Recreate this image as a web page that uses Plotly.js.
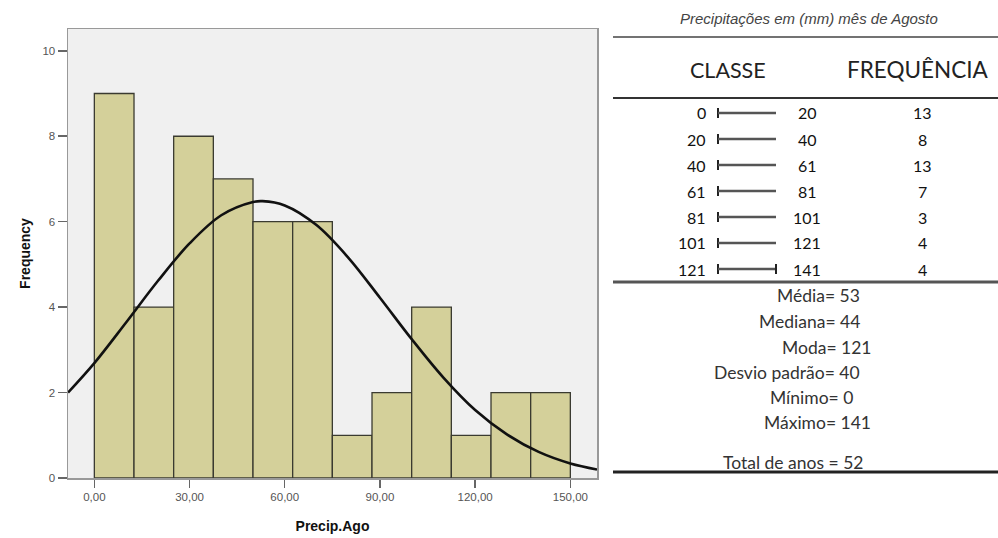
<!DOCTYPE html>
<html>
<head>
<meta charset="utf-8">
<script src="https://cdn.plot.ly/plotly-3.0.1.min.js"></script>
<style>html,body{margin:0;padding:0;background:#fff}#chart{width:998px;height:538px}</style>
</head>
<body>
<div id="chart"></div>
<script>
// ---- histogram data (Precip.Ago) ----
const binStart = [0, 12.5, 25, 37.5, 50, 62.5, 75, 87.5, 100, 112.5, 125, 137.5];
const binCount = [9, 4, 8, 7, 6, 6, 1, 2, 4, 1, 2, 2];
const binWidth = 12.5;

// ---- fitted normal curve ----
const curveX = [-8.3, 0, 10, 20, 30, 40, 50, 53, 60, 70, 80, 90, 100, 110, 120, 130, 140, 150, 158.4];
const curveY = [2.0, 2.69, 3.64, 4.61, 5.49, 6.15, 6.46, 6.48, 6.38, 5.92, 5.16, 4.22, 3.25, 2.35, 1.59, 1.02, 0.61, 0.34, 0.20];

// ---- axis ticks ----
const xTickVals = [0, 30, 60, 90, 120, 150];
const xTickText = ["0,00", "30,00", "60,00", "90,00", "120,00", "150,00"];
const yTickVals = [0, 2, 4, 6, 8, 10];

// ---- frequency table ----
const tableTitle = "Precipitações em (mm) mês de Agosto";
const classLow = [0, 20, 40, 61, 81, 101, 121];
const classHigh = [20, 40, 61, 81, 101, 121, 141];
const classFreq = [13, 8, 13, 7, 3, 4, 4];
const statText = ["Média= 53", "Mediana= 44", "Moda= 121", "Desvio padrão= 40", "Mínimo= 0", "Máximo= 141", "Total de anos = 52"];

// ---- layout helpers (pixel -> paper) ----
const W = 998, H = 538;
const PX = p => p / W;
const PY = p => 1 - p / H;

const traces = [
  {
    type: 'bar', x: binStart, y: binCount, width: binWidth, offset: 0,
    marker: {color: '#d4d09a', line: {color: '#3a3a30', width: 1.3}},
    hoverinfo: 'x+y', showlegend: false
  },
  {
    type: 'scatter', mode: 'lines', x: curveX, y: curveY,
    line: {color: '#111', width: 2.6, shape: 'spline', smoothing: 1},
    showlegend: false, hoverinfo: 'skip'
  }
];

const annotations = [];
const shapes = [];
const tf = 'Lato, "Open Sans", sans-serif';

annotations.push({xref: 'paper', yref: 'paper', x: PX(809), y: PY(18), text: '<i>' + tableTitle + '</i>',
  showarrow: false, xanchor: 'center', yanchor: 'middle', font: {family: 'Liberation Sans, Arial', size: 15, color: '#444'}});
annotations.push({xref: 'paper', yref: 'paper', x: PX(728), y: PY(70), text: 'CLASSE',
  showarrow: false, xanchor: 'center', yanchor: 'middle', font: {family: tf, size: 21.5, color: '#222'}});
annotations.push({xref: 'paper', yref: 'paper', x: PX(918), y: PY(70), text: 'FREQUÊNCIA',
  showarrow: false, xanchor: 'center', yanchor: 'middle', font: {family: tf, size: 22.5, color: '#222'}});

const rowY0 = 113, rowStep = 26;
const rowFont = {family: tf, size: 16, color: '#111'};
classLow.forEach((lo, i) => {
  const y = rowY0 + i * rowStep;
  annotations.push({xref: 'paper', yref: 'paper', x: PX(708), y: PY(y), text: String(lo), showarrow: false, xanchor: 'right', yanchor: 'middle', font: rowFont});
  annotations.push({xref: 'paper', yref: 'paper', x: PX(807), y: PY(y), text: String(classHigh[i]), showarrow: false, xanchor: 'center', yanchor: 'middle', font: rowFont});
  annotations.push({xref: 'paper', yref: 'paper', x: PX(922), y: PY(y), text: String(classFreq[i]), showarrow: false, xanchor: 'center', yanchor: 'middle', font: rowFont});
  shapes.push({type: 'line', xref: 'paper', yref: 'paper', x0: PX(718), x1: PX(718), y0: PY(y - 5), y1: PY(y + 5), line: {color: '#222', width: 2}});
  shapes.push({type: 'line', xref: 'paper', yref: 'paper', x0: PX(718), x1: PX(776), y0: PY(y), y1: PY(y), line: {color: '#555', width: 2.4}});
  if (i === classLow.length - 1) {
    shapes.push({type: 'line', xref: 'paper', yref: 'paper', x0: PX(776), x1: PX(776), y0: PY(y - 5), y1: PY(y + 5), line: {color: '#222', width: 2}});
  }
});

const statRight = [862, 862, 873, 862, 855, 873, 865];
const statY = [295, 321, 347, 372, 397, 422, 462];
statText.forEach((t, i) => {
  annotations.push({xref: 'paper', yref: 'paper', x: PX(statRight[i]), y: PY(statY[i]), text: t, showarrow: false,
    xanchor: 'right', yanchor: 'middle', font: {family: tf, size: 17.5, color: '#333'}});
});

[[37, 1.5, '#444'], [98, 2, '#333'], [282, 3, '#555'], [472, 3, '#222']].forEach(([y, w, c]) => {
  shapes.push({type: 'line', xref: 'paper', yref: 'paper', x0: PX(613), x1: PX(998), y0: PY(y), y1: PY(y), line: {color: c, width: w}});
});

const layout = {
  width: W, height: H,
  margin: {l: 0, r: 0, t: 0, b: 0},
  paper_bgcolor: '#fff', plot_bgcolor: '#f0f0f0',
  font: {family: 'Liberation Sans, Arial, sans-serif', color: '#555'},
  bargap: 0,
  xaxis: {
    domain: [PX(68), PX(597)], range: [-8.3, 158.4],
    tickvals: xTickVals, ticktext: xTickText, tickfont: {size: 11.5, color: '#555'},
    ticks: 'outside', ticklen: 8, tickwidth: 1.5, tickcolor: '#666',
    showline: true, mirror: true, linecolor: '#999', linewidth: 1.5,
    showgrid: false, zeroline: false, automargin: false,
    title: {text: '<b>Precip.Ago</b>', font: {size: 14, color: '#111'}}
  },
  yaxis: {
    domain: [PY(478), PY(29)], range: [0, 10.51],
    tickvals: yTickVals, tickfont: {size: 11.5, color: '#555'},
    ticks: 'outside', ticklen: 9, tickwidth: 1.5, tickcolor: '#666',
    showline: true, mirror: true, linecolor: '#999', linewidth: 1.5,
    showgrid: false, zeroline: false, automargin: false,
    title: {text: '<b>Frequency</b>', font: {size: 14, color: '#111'}}
  },
  annotations: annotations,
  shapes: shapes
};

Plotly.newPlot('chart', traces, layout, {displayModeBar: false, staticPlot: true});
</script>
</body>
</html>
